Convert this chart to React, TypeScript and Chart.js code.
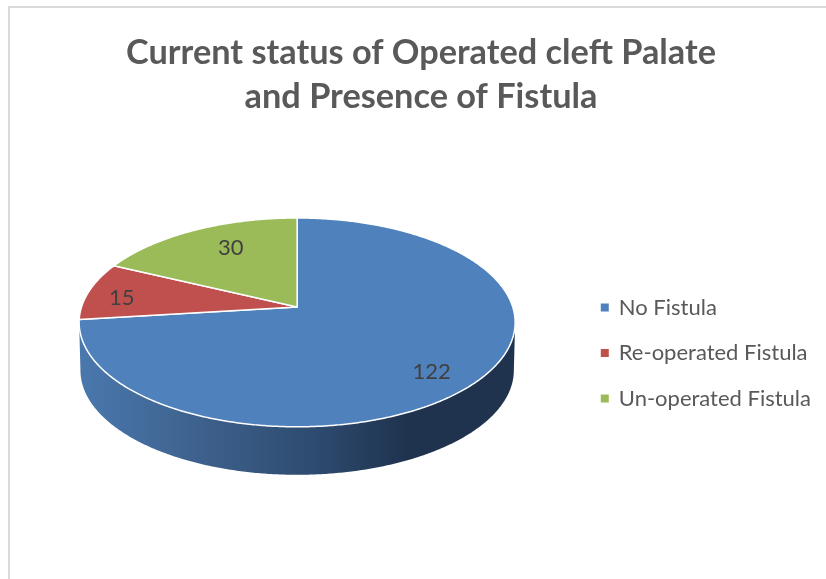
import React, { useEffect, useRef } from "react";
import { Chart, registerables } from "chart.js";

Chart.register(...registerables);

const titleLines = ["Current status of Operated cleft Palate", "and Presence of Fistula"];
const categories = ["No Fistula", "Re-operated Fistula", "Un-operated Fistula"];
const patientCounts = [122, 15, 30];
const sliceColors = ["#4f81bd", "#c0504d", "#9bbb59"];

const FONT = "Lato, Carlito, 'Open Sans', sans-serif";
const SQUASH = 0.479;
const WIDTH_FACTOR = 0.989;
const PERSPECTIVE = -0.148;
const APEX_TO_RIM_CENTER = 15.5;
const APEX_SHIFT_X = -2.5;
const APEX_SHIFT = -46;
const DEPTH = 48;
const LABEL_RADIUS = [0.77, 0.84, 0.62];
const LABEL_NUDGE = [9, 4, -9];

function projector(el: any) {
  const R = el.outerRadius;
  const apexX = el.x + APEX_SHIFT_X;
  const apexY = el.y + APEX_SHIFT;
  return (angle: number, r = 1) => {
    const u = Math.cos(angle) * r;
    const v = Math.sin(angle) * r;
    const w = 1 + PERSPECTIVE * v;
    return {
      x: apexX + (WIDTH_FACTOR * R * u) / w,
      y: apexY + APEX_TO_RIM_CENTER + (R * SQUASH * v - APEX_TO_RIM_CENTER) / w,
    };
  };
}

const pie3d = {
  id: "pie3d",
  beforeDraw(chart: any) {
    const { ctx, width, height } = chart;
    ctx.save();
    ctx.fillStyle = "#ffffff";
    ctx.fillRect(0, 0, width, height);
    ctx.fillStyle = "#d9d9d9";
    ctx.fillRect(8, 6, width - 8, 2);
    ctx.fillRect(8, 6, 2, height - 6);
    ctx.restore();
  },
  beforeDatasetDraw(chart: any, args: any) {
    const { ctx } = chart;
    const arcs = args.meta.data;
    const values = chart.data.datasets[args.index].data;
    const project = projector(arcs[0]);
    const R = arcs[0].outerRadius;
    const cx = arcs[0].x + APEX_SHIFT_X;
    const STEP = Math.PI / 360;

    // side wall
    const edge = Math.asin(PERSPECTIVE * -1);
    const grad = ctx.createLinearGradient(cx - R, 0, cx + R, 0);
    grad.addColorStop(0, "#4a78ad");
    grad.addColorStop(0.3, "#3c5f8a");
    grad.addColorStop(0.55, "#2d4a6e");
    grad.addColorStop(0.75, "#1f334f");
    grad.addColorStop(1, "#1f334f");
    ctx.save();
    ctx.beginPath();
    for (let a = edge; a <= Math.PI - edge; a += STEP) {
      const p = project(a);
      ctx.lineTo(p.x, p.y);
    }
    for (let a = Math.PI - edge; a >= edge; a -= STEP) {
      const p = project(a);
      ctx.lineTo(p.x + (p.x - cx) * -0.006, p.y + DEPTH);
    }
    ctx.closePath();
    ctx.fillStyle = grad;
    ctx.fill();

    // top face slices, from the angles the pie controller computed
    arcs.forEach((arc: any, i: number) => {
      ctx.beginPath();
      const apex = project(0, 0);
      ctx.moveTo(apex.x, apex.y);
      for (let a = arc.startAngle; a < arc.endAngle; a += STEP) {
        const p = project(a);
        ctx.lineTo(p.x, p.y);
      }
      const end = project(arc.endAngle);
      ctx.lineTo(end.x, end.y);
      ctx.closePath();
      ctx.fillStyle = sliceColors[i];
      ctx.fill();
      ctx.strokeStyle = "#ffffff";
      ctx.lineWidth = 1.5;
      ctx.lineJoin = "round";
      ctx.stroke();
    });

    // value labels
    ctx.font = `22px ${FONT}`;
    ctx.fillStyle = "#404040";
    ctx.textAlign = "center";
    ctx.textBaseline = "middle";
    arcs.forEach((arc: any, i: number) => {
      const mid = (arc.startAngle + arc.endAngle) / 2;
      const p = project(mid, LABEL_RADIUS[i]);
      ctx.fillText(String(values[i]), p.x, p.y + LABEL_NUDGE[i]);
    });
    ctx.restore();
    return false;
  },
};

export default function App() {
  const ref = useRef<HTMLCanvasElement>(null);
  useEffect(() => {
    document.body.style.margin = "0";
    const chart = new Chart(ref.current as HTMLCanvasElement, {
      type: "pie",
      plugins: [pie3d],
      data: {
        labels: categories,
        datasets: [
          {
            data: patientCounts,
            backgroundColor: sliceColors,
            borderWidth: 0,
            radius: 218,
          } as any,
        ],
      },
      options: {
        responsive: false,
        animation: false,
        layout: { padding: { left: 21, right: 5, top: 0, bottom: 0 } },
        plugins: {
          tooltip: { enabled: false },
          title: {
            display: true,
            text: titleLines,
            color: "#595959",
            font: { family: FONT, size: 34.3, weight: "bold", lineHeight: 1.31 },
            padding: { top: 30, bottom: 7 },
          },
          legend: {
            position: "right",
            fullSize: false,
            labels: {
              boxWidth: 6,
              boxHeight: 6,
              padding: 23.5,
              color: "#595959",
              font: { family: FONT, size: 22 },
              generateLabels(chart: any) {
                const items = Chart.overrides.pie.plugins.legend.labels.generateLabels(chart);
                return items.map((item: any) => ({
                  ...item,
                  lineWidth: 2,
                  strokeStyle: item.fillStyle,
                }));
              },
            },
          },
        },
      },
    });
    return () => chart.destroy();
  }, []);
  return (
    <canvas
      ref={ref}
      width={826}
      height={579}
      style={{ display: "block", filter: "blur(0.4px)" }}
    />
  );
}
